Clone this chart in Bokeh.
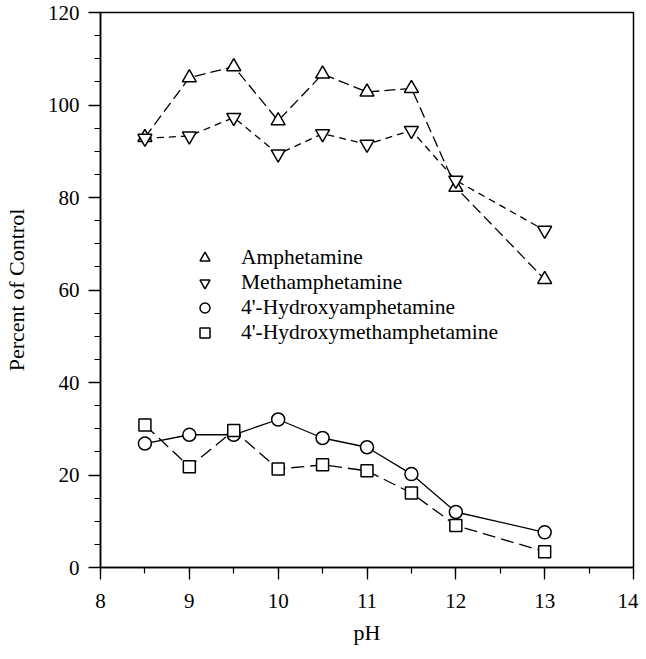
from bokeh.plotting import figure
from bokeh.models import Range1d, SingleIntervalTicker, Legend, LegendItem
from bokeh.embed import file_html
from bokeh.resources import INLINE

# ---- data ----
ph = [8.5, 9, 9.5, 10, 10.5, 11, 11.5, 12, 13]
amphetamine = [93.0, 105.9, 108.3, 96.6, 106.7, 102.8, 103.6, 82.2, 62.3]
methamphetamine = [92.8, 93.3, 97.3, 89.4, 93.8, 91.5, 94.5, 83.7, 72.9]
hydroxyamphetamine = [26.8, 28.7, 28.7, 32.0, 28.0, 26.0, 20.2, 12.0, 7.6]
hydroxymethamphetamine = [30.8, 21.8, 29.6, 21.3, 22.2, 20.9, 16.1, 9.1, 3.4]
series_names = ["Amphetamine", "Methamphetamine",
                "4'-Hydroxyamphetamine", "4'-Hydroxymethamphetamine"]
x_label = "pH"
y_label = "Percent of Control"

FONT = "Liberation Serif"

p = figure(frame_width=533, frame_height=555,
           min_border_left=92, min_border_right=5,
           min_border_top=12, min_border_bottom=76,
           x_range=Range1d(8, 14), y_range=Range1d(0, 120),
           output_backend="svg", toolbar_location=None)

p.grid.visible = False
p.outline_line_color = "black"
p.outline_line_width = 1.5
p.background_fill_color = "white"
p.border_fill_color = "white"

p.xaxis.ticker = SingleIntervalTicker(interval=1, num_minor_ticks=2)
p.yaxis.ticker = SingleIntervalTicker(interval=20, num_minor_ticks=4)

for ax in (p.xaxis[0], p.yaxis[0]):
    ax.axis_line_color = "black"
    ax.axis_line_width = 1.5
    ax.major_tick_line_color = "black"
    ax.minor_tick_line_color = "black"
    ax.major_tick_line_width = 1.3
    ax.minor_tick_line_width = 1.2
    ax.major_tick_in = 0
    ax.minor_tick_in = 0
    ax.major_tick_out = 12
    ax.minor_tick_out = 6
    ax.major_label_text_font = FONT
    ax.major_label_text_font_size = "21px"
    ax.major_label_text_color = "black"
    ax.axis_label_text_font = FONT
    ax.axis_label_text_font_size = "22px"
    ax.axis_label_text_font_style = "normal"
    ax.axis_label_text_color = "black"

p.xaxis.axis_label = x_label
p.yaxis.axis_label = y_label
p.xaxis.major_label_standoff = 14
p.xaxis.axis_label_standoff = 9
p.yaxis.major_label_standoff = 9
p.yaxis.axis_label_standoff = 16

# lines
p.line(ph, amphetamine, line_color="black", line_width=1.3, line_dash="11 5")
p.line(ph, methamphetamine, line_color="black", line_width=1.3, line_dash="7 5")
p.line(ph, hydroxyamphetamine, line_color="black", line_width=1.3)
p.line(ph, hydroxymethamphetamine, line_color="black", line_width=1.3, line_dash="13 6")

# markers
r1 = p.scatter(ph, amphetamine, marker="triangle", size=14, fill_color="white",
               line_color="black", line_width=1.5)
r2 = p.scatter(ph, methamphetamine, marker="inverted_triangle", size=14, fill_color="white",
               line_color="black", line_width=1.5)
r3 = p.scatter(ph, hydroxyamphetamine, marker="circle", size=13, fill_color="white",
               line_color="black", line_width=1.5)
r4 = p.scatter(ph, hydroxymethamphetamine, marker="square", size=12, fill_color="white",
               line_color="black", line_width=1.5)

legend = Legend(items=[LegendItem(label=n, renderers=[r]) for n, r in
                       zip(series_names, [r1, r2, r3, r4])],
                location=(92, 222), padding=0, margin=0,
                glyph_width=25, glyph_height=25, label_height=25, spacing=0,
                label_standoff=24, border_line_alpha=0, background_fill_alpha=0,
                label_text_font=FONT, label_text_font_size="21.5px",
                label_text_color="black")
p.add_layout(legend, "center")

open("out.html", "w").write(file_html(p, INLINE))
